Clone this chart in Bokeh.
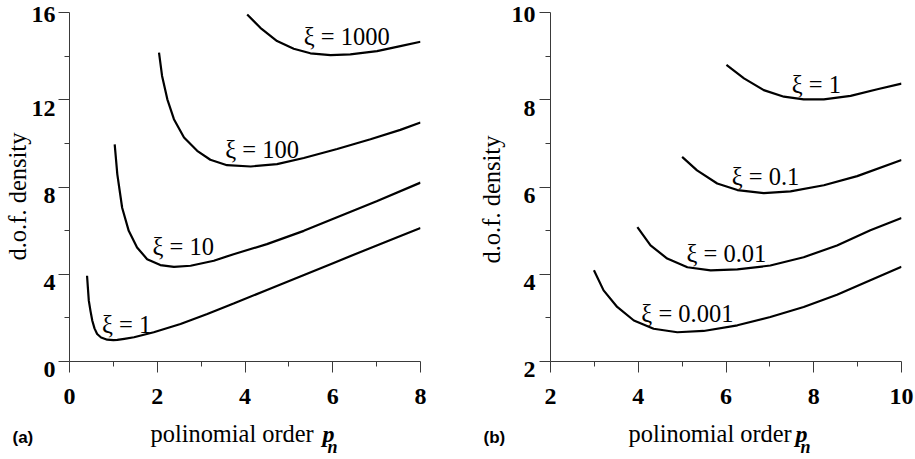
from bokeh.plotting import figure
from bokeh.models import FixedTicker, Label, Range1d, Title
from bokeh.layouts import row
from bokeh.embed import file_html
from bokeh.resources import INLINE

# ---------------- data ----------------
# panel (a)
a_xticks = [0, 2, 4, 6, 8]
a_xminor = [1, 3, 5, 7]
a_yticks = [0, 4, 8, 12, 16]
a_yminor = [2, 6, 10, 14]

a_xi1_x = [0.40, 0.42, 0.44, 0.48, 0.52, 0.57, 0.63, 0.72, 0.86, 1.0, 1.09, 1.25, 1.47, 1.92, 2.53, 3.14, 3.74, 4.5, 5.26, 6.02, 6.79, 7.5, 8.0]
a_xi1_y = [3.93, 3.35, 2.79, 2.30, 1.87, 1.52, 1.26, 1.10, 1.00, 0.98, 0.99, 1.04, 1.11, 1.34, 1.72, 2.18, 2.66, 3.28, 3.90, 4.52, 5.15, 5.72, 6.12]

a_xi10_x = [1.03, 1.09, 1.20, 1.35, 1.54, 1.77, 2.07, 2.38, 2.76, 3.29, 3.74, 4.5, 5.34, 6.0, 7.0, 8.0]
a_xi10_y = [9.95, 8.58, 7.05, 5.99, 5.23, 4.69, 4.42, 4.34, 4.39, 4.62, 4.92, 5.38, 5.99, 6.53, 7.35, 8.2]

a_xi100_x = [2.04, 2.11, 2.23, 2.38, 2.61, 2.91, 3.21, 3.59, 4.13, 4.73, 5.34, 6.10, 6.86, 7.54, 8.0]
a_xi100_y = [14.16, 13.09, 12.02, 11.11, 10.27, 9.66, 9.25, 9.0, 8.94, 9.05, 9.33, 9.74, 10.19, 10.62, 10.96]

a_xi1000_x = [4.05, 4.35, 4.73, 5.11, 5.49, 5.95, 6.40, 7.01, 7.54, 8.0]
a_xi1000_y = [15.91, 15.30, 14.69, 14.34, 14.13, 14.05, 14.08, 14.23, 14.46, 14.66]

a_lab_text = ["ξ = 1", "ξ = 10", "ξ = 100", "ξ = 1000"]
a_lab_x = [1.30, 2.59, 4.39, 6.32]
a_lab_y = [1.71, 5.27, 9.70, 14.88]

# panel (b)
b_xticks = [2, 4, 6, 8, 10]
b_xminor = [3, 5, 7, 9]
b_yticks = [2, 4, 6, 8, 10]
b_yminor = [3, 5, 7, 9]

b_xi0001_x = [2.99, 3.21, 3.52, 3.90, 4.35, 4.89, 5.49, 6.26, 7.01, 7.77, 8.53, 9.29, 10.0]
b_xi0001_y = [4.09, 3.63, 3.25, 2.94, 2.75, 2.67, 2.70, 2.83, 3.02, 3.25, 3.53, 3.86, 4.17]

b_xi001_x = [3.98, 4.28, 4.66, 5.12, 5.65, 6.26, 7.01, 7.77, 8.53, 9.29, 10.0]
b_xi001_y = [5.08, 4.66, 4.36, 4.16, 4.09, 4.11, 4.20, 4.39, 4.66, 5.01, 5.29]

b_xi01_x = [5.0, 5.34, 5.80, 6.26, 6.86, 7.47, 8.23, 8.99, 10.0]
b_xi01_y = [6.69, 6.38, 6.08, 5.93, 5.86, 5.90, 6.04, 6.25, 6.62]

b_xi1_x = [6.01, 6.41, 6.86, 7.32, 7.77, 8.23, 8.84, 9.45, 10.0]
b_xi1_y = [8.80, 8.49, 8.22, 8.07, 8.01, 8.01, 8.09, 8.24, 8.37]

b_lab_text = ["ξ = 0.001", "ξ = 0.01", "ξ = 0.1", "ξ = 1"]
b_lab_x = [5.12, 6.01, 6.90, 8.06]
b_lab_y = [3.10, 4.47, 6.23, 8.34]

x_title = "polinomial order"
x_sym = "p"
x_sub = "n"
y_title = "d.o.f. density"

SERIF = "Liberation Serif"
SANS = "Liberation Sans"
AXC = "#3a3a3a"
NBSP = "\u00a0"


def make_fig(width, mbl, mbr, mbt, mbb, xr, yr, xt, xm, yt, ym, ystand):
    p = figure(width=width, height=459, x_range=Range1d(*xr), y_range=Range1d(*yr),
               output_backend="svg", toolbar_location=None,
               min_border_left=mbl, min_border_right=mbr,
               min_border_top=mbt, min_border_bottom=mbb)
    p.title.visible = False
    p.grid.visible = False
    p.outline_line_color = None
    p.background_fill_color = "white"
    p.border_fill_color = "white"
    p.xaxis.ticker = FixedTicker(ticks=xt, minor_ticks=xm)
    p.yaxis.ticker = FixedTicker(ticks=yt, minor_ticks=ym)
    for ax in p.axis:
        ax.axis_line_color = AXC
        ax.axis_line_width = 1
        ax.major_tick_line_color = AXC
        ax.minor_tick_line_color = AXC
        ax.major_tick_out = 11
        ax.major_tick_in = 0
        ax.minor_tick_out = 5
        ax.minor_tick_in = 0
        ax.major_label_text_font = SERIF
        ax.major_label_text_font_style = "bold"
        ax.major_label_text_font_size = "24px"
        ax.major_label_text_color = "black"
    p.xaxis.major_label_standoff = 16
    p.yaxis.major_label_standoff = ystand
    # tick labels hang just below their ticks, as in the reference
    ov = {}
    for t in yt:
        ov[t] = str(t) if t == yt[-1] else ("\n" + str(t))
    p.yaxis.major_label_overrides = ov
    p.yaxis.major_label_text_line_height = 0.6
    return p


def title(p, side, text, size, style="normal", font=SERIF, align="left", offset=0.0,
          standoff=0.0, valign="middle"):
    p.add_layout(Title(text=text, text_font=font, text_font_size=size, text_font_style=style,
                       text_color="black", align=align, vertical_align=valign,
                       offset=offset, standoff=standoff), side)


def decorate(p, curves, labs, dof_offset, dof_standoff, off_title, off_p, off_n, tag, off_tag):
    for xs, ys in curves:
        p.line(xs, ys, line_color="black", line_width=2.2)
    for t, x, y in zip(*labs):
        p.add_layout(Label(x=x, y=y, text=t, text_font=SERIF, text_font_size="24.5px",
                           text_align="center", text_baseline="middle", text_color="black"))
    # vertical axis title on the left
    title(p, "left", y_title, "24.5px", offset=dof_offset, standoff=dof_standoff)
    # rows below the x axis: spacer, then (nearly) zero-height rows sharing one baseline
    title(p, "below", NBSP, "1px", standoff=24)
    title(p, "below", x_title, "24.4px", offset=off_title, standoff=-29)
    title(p, "below", x_sym, "24px", style="bold italic", offset=off_p, standoff=-28.6)
    title(p, "below", tag, "17px", style="bold", font=SANS, offset=off_tag, standoff=-13)
    title(p, "below", x_sub, "18px", style="bold italic", offset=off_n, standoff=-11)


# ---------------- panel (a) ----------------
pa = make_fig(460, 69, 40, 11, 98, (0, 8), (0, 16), a_xticks, a_xminor, a_yticks, a_yminor, 3)
decorate(pa,
         [(a_xi1_x, a_xi1_y), (a_xi10_x, a_xi10_y), (a_xi100_x, a_xi100_y), (a_xi1000_x, a_xi1000_y)],
         (a_lab_text, a_lab_x, a_lab_y),
         dof_offset=101, dof_standoff=-6,
         off_title=81, off_p=253, off_n=258, tag="(a)", off_tag=-57)

# ---------------- panel (b) ----------------
pb = make_fig(455, 90, 14, 12, 98, (2, 10), (2, 10), b_xticks, b_xminor, b_yticks, b_yminor, 4)
decorate(pb,
         [(b_xi0001_x, b_xi0001_y), (b_xi001_x, b_xi001_y), (b_xi01_x, b_xi01_y), (b_xi1_x, b_xi1_y)],
         (b_lab_text, b_lab_x, b_lab_y),
         dof_offset=98, dof_standoff=6,
         off_title=78, off_p=245, off_n=250, tag="(b)", off_tag=-67)

layout = row(pa, pb)
open("out.html", "w").write(file_html(layout, INLINE))
